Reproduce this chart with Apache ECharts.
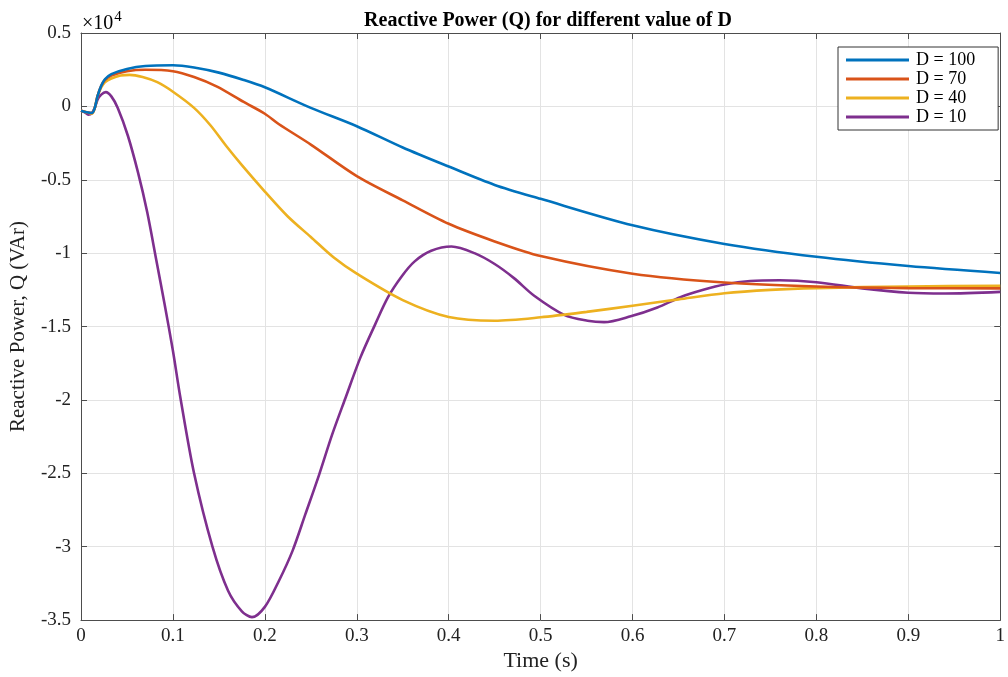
<!DOCTYPE html>
<html>
<head>
<meta charset="utf-8">
<script src="https://cdn.jsdelivr.net/npm/echarts@6/dist/echarts.min.js"></script>
<style>
html,body{margin:0;padding:0;background:#fff;}
#chart{width:1008px;height:677px;}
</style>
</head>
<body>
<div id="chart"></div>
<script>
// Values in units of 10^4 VAr (as shown on the axis)
const seriesNames = ['D = 100', 'D = 70', 'D = 40', 'D = 10'];
const colors = ['#0072BD', '#D95319', '#EDB120', '#7E2F8E'];

const tD100 = [0, 0.006, 0.012, 0.015, 0.018, 0.022, 0.026, 0.033, 0.05, 0.07, 0.1, 0.123, 0.15, 0.177, 0.2, 0.25, 0.3, 0.35, 0.4, 0.45, 0.5, 0.6, 0.7, 0.8, 0.9, 1.0];
const qD100 = [-0.03, -0.04, -0.045, -0.01, 0.07, 0.14, 0.185, 0.22, 0.255, 0.275, 0.28, 0.265, 0.23, 0.18, 0.13, -0.01, -0.135, -0.28, -0.41, -0.535, -0.63, -0.81, -0.937, -1.025, -1.088, -1.135];

const tD70 = [0, 0.006, 0.012, 0.015, 0.018, 0.022, 0.026, 0.033, 0.05, 0.07, 0.1, 0.123, 0.148, 0.177, 0.2, 0.215, 0.25, 0.3, 0.35, 0.4, 0.45, 0.5, 0.6, 0.7, 0.8, 0.9, 1.0];
const qD70 = [-0.03, -0.04, -0.045, -0.01, 0.07, 0.14, 0.18, 0.21, 0.24, 0.25, 0.24, 0.2, 0.135, 0.03, -0.05, -0.12, -0.26, -0.475, -0.64, -0.80, -0.92, -1.02, -1.14, -1.2, -1.227, -1.238, -1.24];

const tD40 = [0, 0.006, 0.012, 0.015, 0.018, 0.022, 0.026, 0.033, 0.043, 0.053, 0.067, 0.083, 0.1, 0.123, 0.141, 0.158, 0.175, 0.2, 0.225, 0.25, 0.275, 0.3, 0.35, 0.4, 0.45, 0.5, 0.55, 0.6, 0.65, 0.7, 0.75, 0.8, 0.9, 1.0];
const qD40 = [-0.03, -0.04, -0.05, -0.01, 0.07, 0.13, 0.165, 0.19, 0.21, 0.215, 0.2, 0.165, 0.1, -0.01, -0.13, -0.27, -0.4, -0.58, -0.75, -0.89, -1.03, -1.14, -1.32, -1.435, -1.46, -1.437, -1.4, -1.358, -1.315, -1.273, -1.25, -1.238, -1.227, -1.223];

const tD10 = [0, 0.004, 0.008, 0.012, 0.015, 0.018, 0.022, 0.027, 0.033, 0.04, 0.051, 0.062, 0.072, 0.082, 0.091, 0.1, 0.108, 0.123, 0.143, 0.16, 0.175, 0.186, 0.2, 0.2155, 0.23, 0.244, 0.259, 0.273, 0.2875, 0.304, 0.32, 0.334, 0.349, 0.363, 0.381, 0.403, 0.428, 0.45, 0.471, 0.493, 0.5256, 0.551, 0.569, 0.598, 0.627, 0.652, 0.677, 0.7, 0.728, 0.76, 0.8, 0.85, 0.9, 0.94, 1.0];
const qD10 = [-0.03, -0.04, -0.056, -0.045, -0.01, 0.045, 0.08, 0.097, 0.068, -0.011, -0.2, -0.45, -0.72, -1.05, -1.35, -1.665, -1.98, -2.5, -3.0, -3.3, -3.44, -3.48, -3.41, -3.23, -3.03, -2.78, -2.51, -2.24, -1.99, -1.71, -1.485, -1.30, -1.157, -1.056, -0.984, -0.955, -1.0, -1.074, -1.17, -1.29, -1.42, -1.46, -1.47, -1.43, -1.37, -1.30, -1.25, -1.214, -1.19, -1.185, -1.198, -1.24, -1.27, -1.275, -1.264];

const xTicks = [0, 0.1, 0.2, 0.3, 0.4, 0.5, 0.6, 0.7, 0.8, 0.9, 1];
const yTicks = [0.5, 0, -0.5, -1, -1.5, -2, -2.5, -3, -3.5];

const tArrays = [tD100, tD70, tD40, tD10];
const qArrays = [qD100, qD70, qD40, qD10];

const FONT = '"Liberation Serif", "Times New Roman", serif';
const AX = '#4d4d4d';

const chart = echarts.init(document.getElementById('chart'), null, {renderer: 'canvas'});

const series = seriesNames.map((name, i) => ({
  name: name,
  type: 'line',
  xAxisIndex: 0,
  yAxisIndex: 0,
  data: tArrays[i].map((t, k) => [t, qArrays[i][k]]),
  showSymbol: false,
  smooth: 0.3,
  lineStyle: {color: colors[i], width: 2.6},
  itemStyle: {color: colors[i]},
  z: 10 - i
}));

const fmt = v => String(Math.round(v * 10) / 10);

chart.setOption({
  animation: false,
  backgroundColor: '#fff',
  title: {
    text: 'Reactive Power (Q) for different value of D',
    left: 543, textAlign: 'center', top: 6,
    textStyle: {fontFamily: FONT, fontWeight: 'bold', fontSize: 20, color: '#000'}
  },
  grid: {left: 81, right: 2, top: 33, bottom: 51, containLabel: false},
  legend: {
    data: seriesNames,
    orient: 'vertical',
    left: 838, top: 47,
    icon: 'rect',
    itemWidth: 63, itemHeight: 3,
    itemGap: 1,
    padding: [4, 23, 4, 8],
    borderColor: '#333', borderWidth: 1,
    backgroundColor: '#fff',
    textStyle: {fontFamily: FONT, fontSize: 18, color: '#000', padding: [0, 0, 0, 2]}
  },
  xAxis: [
    {
      type: 'value', min: 0, max: 1, interval: 0.1, position: 'bottom',
      name: 'Time (s)', nameLocation: 'middle', nameGap: 27,
      nameTextStyle: {fontFamily: FONT, fontSize: 22, color: '#222'},
      axisLine: {show: true, onZero: false, lineStyle: {color: AX, width: 1}},
      axisTick: {show: true, inside: true, length: 6, lineStyle: {color: AX}},
      axisLabel: {fontFamily: FONT, fontSize: 19, color: '#222', margin: 6, formatter: v => xTicks.includes(Math.round(v*10)/10) ? fmt(v) : ''},
      splitLine: {show: true, lineStyle: {color: '#e3e3e3', width: 1}}
    },
    {
      type: 'value', min: 0, max: 1, interval: 0.1, position: 'top',
      axisLine: {show: true, onZero: false, lineStyle: {color: AX, width: 1}},
      axisTick: {show: true, inside: true, length: 6, lineStyle: {color: AX}},
      axisLabel: {show: false},
      splitLine: {show: false}
    }
  ],
  yAxis: [
    {
      type: 'value', min: -3.5, max: 0.5, interval: 0.5, position: 'left',
      name: 'Reactive Power, Q (VAr)', nameLocation: 'middle', nameGap: 52, nameRotate: 90,
      nameTextStyle: {fontFamily: FONT, fontSize: 21, color: '#222'},
      axisLine: {show: true, onZero: false, lineStyle: {color: AX, width: 1}},
      axisTick: {show: true, inside: true, length: 6, lineStyle: {color: AX}},
      axisLabel: {fontFamily: FONT, fontSize: 19, color: '#222', margin: 10, formatter: v => yTicks.includes(Math.round(v*10)/10) ? fmt(v) : ''},
      splitLine: {show: true, lineStyle: {color: '#e3e3e3', width: 1}}
    },
    {
      type: 'value', min: -3.5, max: 0.5, interval: 0.5, position: 'right',
      axisLine: {show: true, onZero: false, lineStyle: {color: AX, width: 1}},
      axisTick: {show: true, inside: true, length: 6, lineStyle: {color: AX}},
      axisLabel: {show: false},
      splitLine: {show: false}
    }
  ],
  graphic: [
    {
      type: 'text', left: 82, top: 10,
      style: {
        text: '{a|×10}{b|4}',
        rich: {
          a: {fontFamily: FONT, fontSize: 20, color: '#222', verticalAlign: 'bottom'},
          b: {fontFamily: FONT, fontSize: 15, color: '#222', verticalAlign: 'top', padding: [0, 0, 9, 1]}
        }
      }
    }
  ],
  series: series
});
</script>
</body>
</html>
